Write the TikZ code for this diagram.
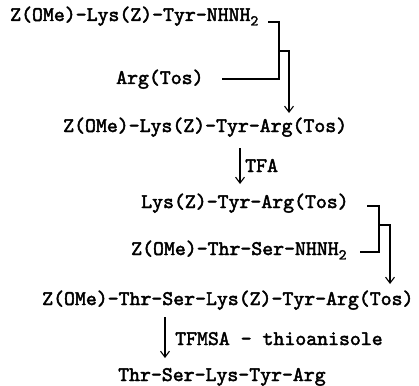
\documentclass[tikz,border=0pt]{standalone}
\usepackage{fontspec}
\newfontfamily\courb{lmmono10-regular}[Extension=.otf, FakeBold=2.2]
\usetikzlibrary{arrows.meta}
\newcommand{\subtwo}{\raisebox{-0.5ex}{\fontsize{15}{15}\selectfont 2}}
\begin{document}
\begin{tikzpicture}[x=1pt,y=-1pt,
  txt/.style={font=\fontsize{20.8}{20.8}\selectfont\courb, inner sep=0pt, anchor=base west},
  conn/.style={line width=1.1pt},
  arr/.style={line width=1.1pt,-{Straight Barb[length=6pt,width=9pt]}}]
\useasboundingbox (0,0) rectangle (419,385);
\node[txt] (l1) at (10,21) {Z(OMe)-Lys(Z)-Tyr-NHNH\subtwo};
\node[txt] (arg) at (116,84) {Arg(Tos)};
\node[txt] (l3) at (63,132) {Z(OMe)-Lys(Z)-Tyr-Arg(Tos)};
\node[txt] (tfa) at (245,172) {TFA};
\node[txt] (l4) at (141,208) {Lys(Z)-Tyr-Arg(Tos)};
\node[txt] (ts) at (131,255) {Z(OMe)-Thr-Ser-NHNH\subtwo};
\node[txt] (l5) at (42,305) {Z(OMe)-Thr-Ser-Lys(Z)-Tyr-Arg(Tos)};
\node[txt] (tfmsa) at (175,345) {TFMSA - thioanisole};
\node[txt] (fin) at (118,381) {Thr-Ser-Lys-Tyr-Arg};
% bracket 1
\coordinate (b1a) at (268,22);
\coordinate (b1c) at (279,22);
\coordinate (b1d) at (279,79);
\coordinate (b1e) at (222,79);
\coordinate (b1m) at (279,51);
\coordinate (b1n) at (289,51);
\coordinate (b1t) at (289,113);
\draw[conn] (b1a) -- (b1c) -- (b1d) -- (b1e);
\draw[arr] (b1m) -- (b1n) -- (b1t);
% TFA
\coordinate (t1s) at (240,148);
\coordinate (t1e) at (240,184);
\draw[arr] (t1s) -- (t1e);
% bracket 2
\coordinate (b2a) at (367,206);
\coordinate (b2c) at (379,206);
\coordinate (b2d) at (379,252);
\coordinate (b2e) at (360,252);
\coordinate (b2m) at (379,225);
\coordinate (b2n) at (390,225);
\coordinate (b2t) at (390,284);
\draw[conn] (b2a) -- (b2c) -- (b2d) -- (b2e);
\draw[arr] (b2m) -- (b2n) -- (b2t);
% TFMSA
\coordinate (t2s) at (165,317);
\coordinate (t2e) at (165,358);
\draw[arr] (t2s) -- (t2e);
\end{tikzpicture}
\end{document}
